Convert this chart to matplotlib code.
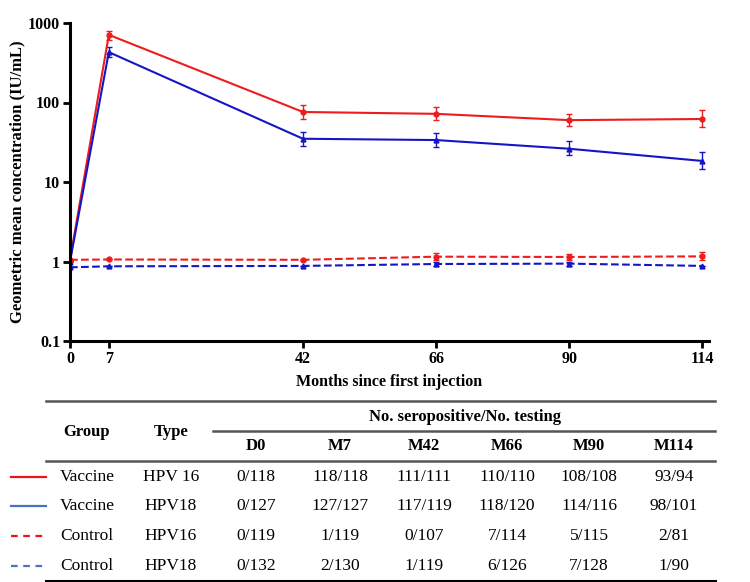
import numpy as np
import matplotlib.pyplot as plt
from matplotlib.lines import Line2D

plt.rcParams['font.family'] = ['Liberation Serif', 'DejaVu Serif']

# GMC data
months = [0, 7, 42, 66, 90, 114]
vac16 = [1.05, 710, 76, 72, 60, 62]
vac16_lo = [1.05, 610, 62, 60, 50, 49]
vac16_hi = [1.05, 800, 93, 87, 72, 80]
vac18 = [1.0, 430, 35, 33.7, 26.2, 18.4]
vac18_lo = [1.0, 370, 28.6, 27.3, 21.7, 14.6]
vac18_hi = [1.0, 494, 43, 41, 32.8, 23.7]
ctl16 = [1.05, 1.06, 1.05, 1.15, 1.14, 1.16]
ctl16_lo = [1.05, 1.06, 1.05, 1.03, 1.05, 1.04]
ctl16_hi = [1.05, 1.06, 1.05, 1.28, 1.24, 1.3]
ctl18 = [0.845, 0.87, 0.88, 0.93, 0.94, 0.88]
ctl18_lo = [0.845, 0.87, 0.88, 0.87, 0.88, 0.88]
ctl18_hi = [0.845, 0.87, 0.88, 0.99, 1.0, 0.88]

# table contents
visits = ['D0', 'M7', 'M42', 'M66', 'M90', 'M114']
groups = ['Vaccine', 'Vaccine', 'Control', 'Control']
types = ['HPV 16', 'HPV18', 'HPV16', 'HPV18']
counts = [
    ['0/118', '118/118', '111/111', '110/110', '108/108', '93/94'],
    ['0/127', '127/127', '117/119', '118/120', '114/116', '98/101'],
    ['0/119', '1/119', '0/107', '7/114', '5/115', '2/81'],
    ['0/132', '2/130', '1/119', '6/126', '7/128', '1/90'],
]

red = '#ee1c1c'
blue = '#1515c8'

W, H = 750, 582
fig = plt.figure(figsize=(7.5, 5.82), dpi=100)
ax = fig.add_axes([70 / W, 1 - 341 / H, (709 - 70) / W, (341 - 23) / H])


def err(v, lo, hi):
    v, lo, hi = np.array(v), np.array(lo), np.array(hi)
    return [v - lo, hi - v]


series = [
    (vac16, vac16_lo, vac16_hi, red, '-', 'o'),
    (vac18, vac18_lo, vac18_hi, blue, '-', '^'),
    (ctl16, ctl16_lo, ctl16_hi, red, '--', 'o'),
    (ctl18, ctl18_lo, ctl18_hi, blue, '--', '^'),
]
for v, lo, hi, c, ls, m in series:
    ax.errorbar(months, v, yerr=err(v, lo, hi), color=c, ls=ls, lw=1.5,
                marker=m, ms=3.5, capsize=2.5, elinewidth=1, capthick=1)

ax.set_yscale('log')
ax.set_ylim(0.1, 1000)
ax.set_xlim(0, 115.2)
ax.set_yticks([0.1, 1, 10, 100, 1000])
ax.set_yticklabels(['0.1', '1', '10', '100', '1000'])
ax.minorticks_off()
ax.set_xticks(months)
for s in ['top', 'right']:
    ax.spines[s].set_visible(False)
for s in ['left', 'bottom']:
    ax.spines[s].set_linewidth(2.2)
ax.tick_params(width=2, length=5, labelsize=11.5, pad=2)
for lab in ax.get_xticklabels() + ax.get_yticklabels():
    lab.set_fontweight('bold')
ax.set_xlabel('Months since first injection', fontsize=11.5, fontweight='bold', labelpad=5)
ax.set_ylabel('Geometric mean concentration (IU/mL)', fontsize=12, fontweight='bold', labelpad=2)

# table drawn in pixel coordinates
tb = fig.add_axes([0, 0, 1, 1])
tb.set_xlim(0, W)
tb.set_ylim(H, 0)
tb.axis('off')

gray = '#555555'
tb.plot([46, 715], [401, 401], color=gray, lw=1.8)
tb.plot([213, 715], [431, 431], color=gray, lw=1.8)
tb.plot([46, 715], [461, 461], color=gray, lw=1.8)
tb.plot([46, 715], [580.5, 580.5], color='black', lw=2.2)

hdr = dict(fontsize=12, fontweight='bold', ha='center', va='center')
tb.text(87, 432, 'Group', **hdr)
tb.text(171, 432, 'Type', **hdr)
tb.text(465, 417, 'No. seropositive/No. testing', **hdr)
col_x = [256, 340, 424, 507, 589, 674]
for x, v in zip(col_x, visits):
    tb.text(x, 446, v, **hdr)

row_y = [477, 506, 536, 566]
leg_col = ['#e8141b', '#4a72c4', '#e8141b', '#4a72c4']
leg_ls = ['-', '-', (0, (3, 2.5)), (0, (3, 2.5))]
for i, y in enumerate(row_y):
    tb.add_line(Line2D([11, 46], [y, y], color=leg_col[i], ls=leg_ls[i], lw=1.6))
    tb.text(87, y, groups[i], fontsize=12.5, ha='center', va='center')
    tb.text(171, y, types[i], fontsize=12.5, ha='center', va='center')
    for x, c in zip(col_x, counts[i]):
        tb.text(x, y, c, fontsize=12.5, ha='center', va='center')

fig.savefig('out.png', dpi=100)
